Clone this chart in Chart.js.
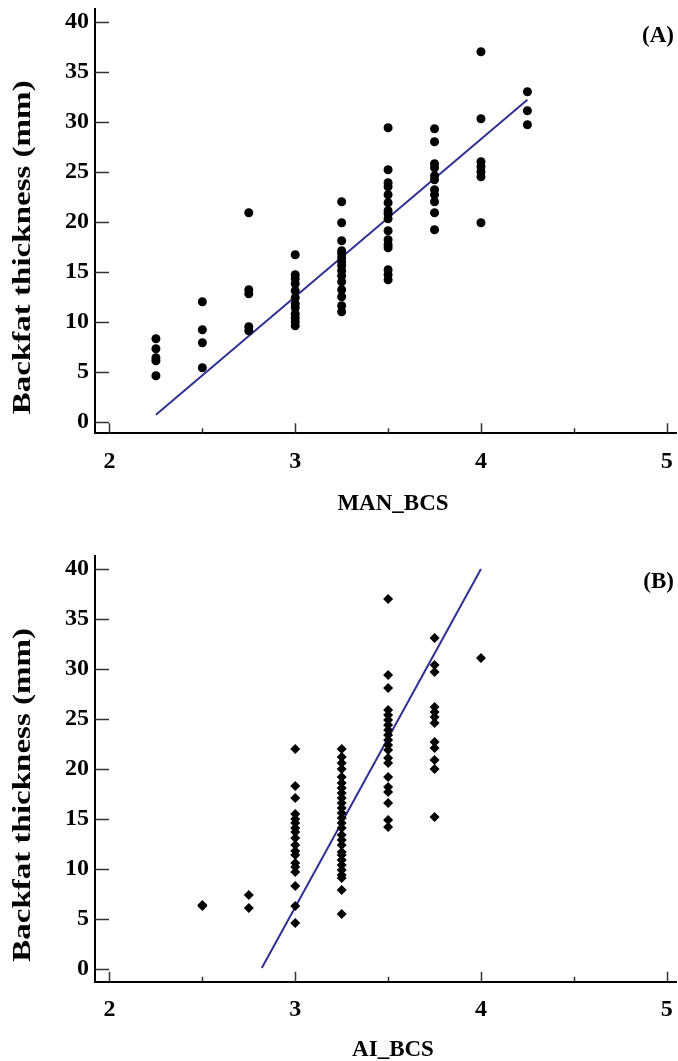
<!DOCTYPE html>
<html>
<head>
<meta charset="utf-8">
<script src="https://cdn.jsdelivr.net/npm/chart.js@4.4.1/dist/chart.umd.min.js"></script>
<style>
    html, body { margin: 0; padding: 0; background: #fff; }
    .panel { position: absolute; left: 0; width: 678px; }
    #panelA { top: 0; height: 530px; }
    #panelB { top: 530px; height: 531px; }
</style>
</head>
<body>
<div class="panel" id="panelA"><canvas id="chartA" width="678" height="530"></canvas></div>
<div class="panel" id="panelB"><canvas id="chartB" width="678" height="531"></canvas></div>
<script>
// (A) manual body condition score vs backfat (mm)
const manLevels = [2.25, 2.5, 2.75, 3, 3.25, 3.5, 3.75, 4, 4.25];
const manBackfat = [
    [8.3, 7.3, 6.4, 6.1, 4.6],
    [12.0, 9.2, 7.9, 5.4],
    [20.9, 13.2, 12.8, 9.5, 9.1],
    [16.7, 14.7, 14.3, 13.8, 13.1, 12.4, 11.8, 11.4, 10.8, 10.4, 10.0, 9.6],
    [22.0, 19.9, 18.1, 17.1, 16.8, 16.4, 16.0, 15.6, 15.1, 14.6, 14.0, 13.2, 12.5, 11.6, 11.0],
    [29.4, 25.2, 23.9, 23.5, 22.7, 21.9, 21.1, 20.8, 20.3, 19.1, 18.2, 17.7, 17.4, 15.2, 14.7, 14.2],
    [29.3, 28.0, 25.8, 25.4, 24.6, 24.2, 23.2, 22.7, 22.0, 20.9, 19.2],
    [37.0, 30.3, 26.0, 25.5, 25.0, 24.5, 19.9],
    [33.0, 31.1, 29.7]
];
const manFitX = [2.25, 4.25];
const manFitY = [0.7, 32.2];

// (B) AI body condition score vs backfat (mm)
const aiLevels = [2.5, 2.75, 3, 3.25, 3.5, 3.75, 4];
const aiBackfat = [
    [6.3, 6.4],
    [7.4, 6.1],
    [22.0, 18.3, 17.1, 15.5, 15.0, 14.6, 14.1, 13.7, 13.1, 12.4, 11.8, 11.4, 10.6, 10.2, 9.7, 8.3, 6.3, 4.6],
    [22.0, 21.2, 20.6, 20.0, 19.2, 18.6, 18.1, 17.6, 17.1, 16.6, 16.1, 15.6, 15.1, 14.6, 14.1, 13.4, 12.9, 12.4, 11.7, 11.4, 10.9, 10.4, 9.9, 9.4, 9.1, 7.9, 5.5],
    [37.0, 29.4, 28.1, 25.9, 25.4, 24.9, 24.4, 23.9, 23.4, 22.9, 22.4, 21.9, 21.1, 20.6, 19.2, 18.2, 17.7, 16.6, 14.9, 14.2],
    [33.1, 30.4, 29.7, 26.2, 25.7, 25.2, 24.6, 22.7, 22.1, 20.9, 20.0, 15.2],
    [31.1]
];
const aiFitX = [2.82, 4.0];
const aiFitY = [0.1, 40.0];

const xTicks = [2, 3, 4, 5];
const xMinorTicks = [2.5, 3.5, 4.5];
const yTicks = [0, 5, 10, 15, 20, 25, 30, 35, 40];

const serif = '"Liberation Serif", "Times New Roman", serif';

// inward tick marks + axis titles + panel letter
const axisDecor = {
    id: 'axisDecor',
    beforeDatasetsDraw(chart) {
        const { ctx, chartArea: area, scales: { x, y } } = chart;
        ctx.save();
        ctx.strokeStyle = '#333';
        ctx.lineWidth = 1.5;
        ctx.beginPath();
        yTicks.forEach(v => {
            const py = Math.round(y.getPixelForValue(v)) + 0.5;
            ctx.moveTo(area.left, py);
            ctx.lineTo(area.left + 14, py);
        });
        xTicks.forEach(v => {
            const px = Math.round(x.getPixelForValue(v)) + 0.5;
            ctx.moveTo(px, area.bottom);
            ctx.lineTo(px, area.bottom - 10);
        });
        xMinorTicks.forEach(v => {
            const px = Math.round(x.getPixelForValue(v)) + 0.5;
            ctx.moveTo(px, area.bottom);
            ctx.lineTo(px, area.bottom - 5);
        });
        ctx.stroke();
        ctx.restore();
    },
    afterDraw(chart, args, opts) {
        const { ctx, chartArea: area } = chart;
        ctx.save();
        ctx.fillStyle = '#000';
        ctx.font = 'bold 23px ' + serif;
        ctx.textAlign = 'center';
        ctx.textBaseline = 'middle';
        ctx.fillText(opts.xTitle, 393, area.bottom + opts.xTitleOffset);

        // the source stretches this label along its length
        ctx.save();
        ctx.font = 'bold 26px ' + serif;
        ctx.translate(23, (area.top + area.bottom) / 2 + 26);
        ctx.rotate(-Math.PI / 2);
        ctx.scale(1.27, 1);
        ctx.fillText('Backfat thickness (mm)', 0, 0);
        ctx.restore();

        ctx.textAlign = 'right';
        ctx.fillText(opts.label, 674, opts.labelY);
        ctx.restore();
    }
};

function buildPoints(levels, values) {
    const pts = [];
    levels.forEach((lv, i) => {
        values[i].forEach(v => pts.push({ x: lv, y: v }));
    });
    return pts;
}

// keep the plot frame where we put it
function noScalePadding(s) {
    s.paddingTop = 0;
    s.paddingBottom = 0;
    s.paddingLeft = 0;
    s.paddingRight = 0;
}

function renderPanel(canvasId, cfg) {
    const ctx = document.getElementById(canvasId).getContext('2d');
    const h = ctx.canvas.height;
    return new Chart(ctx, {
        type: 'scatter',
        data: {
            datasets: [
                {
                    data: buildPoints(cfg.levels, cfg.values),
                    pointStyle: cfg.pointStyle,
                    pointRadius: cfg.radius,
                    pointHoverRadius: cfg.radius,
                    backgroundColor: '#000',
                    borderColor: '#000',
                    borderWidth: 0
                },
                {
                    type: 'line',
                    data: cfg.fitX.map((v, i) => ({ x: v, y: cfg.fitY[i] })),
                    borderColor: '#2e3192',
                    borderWidth: 2,
                    pointRadius: 0,
                    fill: false
                }
            ]
        },
        options: {
            responsive: false,
            animation: false,
            layout: { autoPadding: false, padding: { top: cfg.top, right: 2, left: 0, bottom: 0 } },
            plugins: {
                legend: { display: false },
                tooltip: { enabled: false },
                axisDecor: { xTitle: cfg.xTitle, xTitleOffset: cfg.xTitleOffset, label: cfg.label, labelY: cfg.labelY }
            },
            scales: {
                x: {
                    type: 'linear',
                    min: 1.922,
                    max: 5.05,
                    afterBuildTicks: s => { s.ticks = xTicks.map(v => ({ value: v })); },
                    afterFit: s => { s.height = h - cfg.bottom; noScalePadding(s); },
                    grid: { display: false, drawTicks: false },
                    border: { display: true, color: '#000', width: 2 },
                    ticks: { color: '#000', padding: 14, font: { family: serif, size: 24, weight: 'bold' } }
                },
                y: {
                    type: 'linear',
                    min: cfg.yMin,
                    max: cfg.yMax,
                    afterBuildTicks: s => { s.ticks = yTicks.map(v => ({ value: v })); },
                    afterFit: s => { s.width = 95; noScalePadding(s); },
                    grid: { display: false, drawTicks: false },
                    border: { display: true, color: '#000', width: 2 },
                    ticks: { color: '#000', padding: 6, font: { family: serif, size: 24, weight: 'bold' } }
                }
            }
        },
        plugins: [axisDecor]
    });
}

renderPanel('chartA', {
    levels: manLevels, values: manBackfat, fitX: manFitX, fitY: manFitY,
    pointStyle: 'circle', radius: 4.5,
    top: 9.3, bottom: 433.3, yMin: -1.16, yMax: 41.24,
    xTitle: 'MAN_BCS', xTitleOffset: 71, label: '(A)', labelY: 36
});

renderPanel('chartB', {
    levels: aiLevels, values: aiBackfat, fitX: aiFitX, fitY: aiFitY,
    pointStyle: 'rectRot', radius: 5,
    top: 26, bottom: 451.7, yMin: -1.27, yMax: 41.3,
    xTitle: 'AI_BCS', xTitleOffset: 68, label: '(B)', labelY: 52
});
</script>
</body>
</html>
